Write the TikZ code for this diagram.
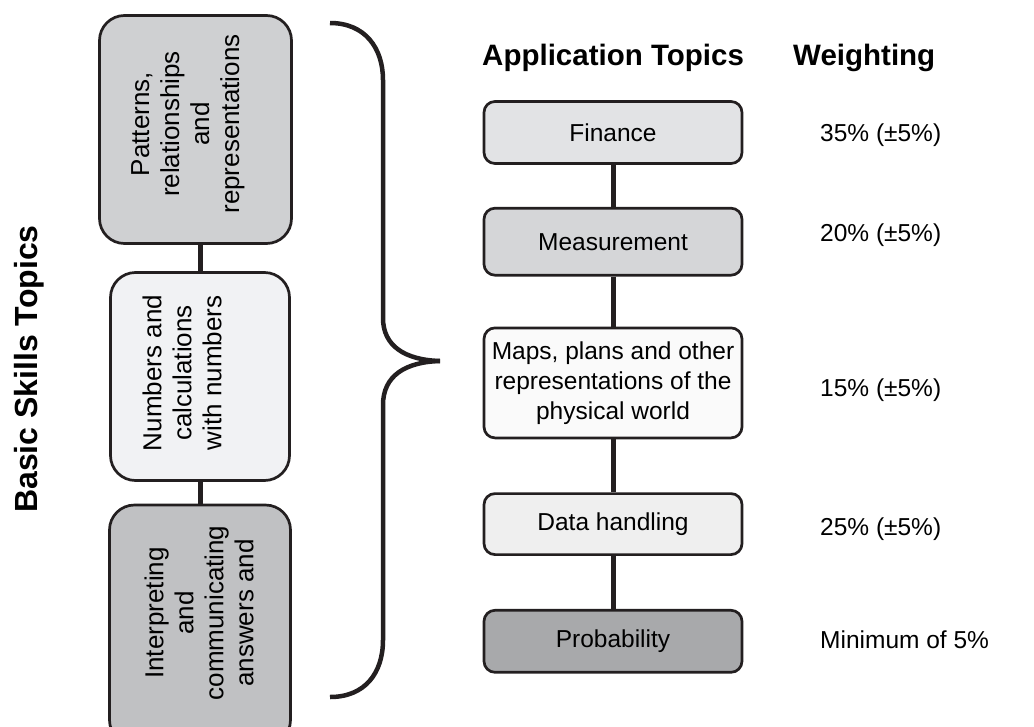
\documentclass[tikz,border=0pt]{standalone}
\usepackage{fontspec}
\setmainfont{Liberation Sans}
\usetikzlibrary{positioning}

\definecolor{linegray}{RGB}{35,31,32}
\definecolor{patternsgray}{RGB}{207,208,210}
\definecolor{numbersgray}{RGB}{241,242,244}
\definecolor{interpgray}{RGB}{192,193,195}
\definecolor{financegray}{RGB}{226,227,229}
\definecolor{measuregray}{RGB}{213,214,216}
\definecolor{mapsgray}{RGB}{250,250,250}
\definecolor{datagray}{RGB}{239,239,239}
\definecolor{probgray}{RGB}{168,169,171}

\tikzset{
    box/.style={draw=linegray, line width=2.7pt, rounded corners=11pt, minimum width=258pt, align=center, inner sep=0pt, font=\fontsize{24.5}{30}\selectfont},
    skill/.style={draw=linegray, line width=2.7pt, rounded corners=25pt, inner sep=0pt},
    skilltext/.style={rotate=90, align=center, inner sep=0pt, font=\fontsize{26}{30}\selectfont},
    title/.style={inner sep=0pt, font=\fontsize{29.5}{34}\selectfont\bfseries},
    weight/.style={anchor=base west, inner sep=0pt, font=\fontsize{24.5}{30}\selectfont},
    link/.style={draw=linegray, line width=5pt},
    brace/.style={draw=linegray, line width=4.5pt}
}

\begin{document}
\begin{tikzpicture}[x=1pt,y=-1pt]
        \useasboundingbox (0,0) rectangle (1034,726);
        \clip (0,0) rectangle (1034,726);
        % basic skills
        \node [skill,fill=patternsgray,minimum width=192pt,minimum height=228pt] (patterns) at (195.5,129.5) {};
        \node [skill,fill=numbersgray,minimum width=179pt,minimum height=208pt] (numbers) at (200,376.5) {};
        \node [skill,fill=interpgray,minimum width=181pt,minimum height=240pt] (interp) at (200,625) {};
        \path[link]
            (patterns.south -| numbers.north) edge (numbers.north)
            (numbers.south) edge (interp.north);
        \node [skilltext] at (188,124) {Patterns,\\relationships\\and\\representations};
        \node [skilltext] at (182,373) {Numbers and\\calculations\\with numbers};
        \node [skilltext] at (199,613) {Interpreting\\and\\communicating\\answers and};
        \node [title,rotate=90,anchor=base,font=\fontsize{32}{36}\selectfont\bfseries] (basic) at (37,369) {Basic Skills Topics};
        % brace
        \draw [brace] (330,23) .. controls (365,23) and (383,48) .. (383,80) -- (383,318)
            .. controls (383,346) and (405,360) .. (440,361);
        \draw [brace] (440,361) .. controls (405,362) and (383,376) .. (383,405) -- (383,640)
            .. controls (383,673) and (365,697) .. (330,697);
        % application topics
        \node [title,anchor=base west] (apptitle) at (482,65) {Application Topics};
        \node [title,anchor=base west] (wtitle) at (793,65) {Weighting};
        \node [box,fill=financegray,minimum height=62pt] (finance) at (613,132.5) {Finance};
        \node [box,fill=measuregray,minimum height=67pt] (measure) [below=42pt of finance] {Measurement};
        \node [box,fill=mapsgray,minimum height=110pt] (maps) [below=50pt of measure] {Maps, plans and other\\representations of the\\physical world};
        \node [box,fill=datagray,minimum height=61pt] (data) [below=53pt of maps] {Data handling};
        \node [box,fill=probgray,minimum height=62pt] (prob) [below=53pt of data] {Probability};
        \path[link]
            (finance) edge (measure)
            (measure) edge (maps)
            (maps) edge (data)
            (data) edge (prob);
        % weightings
        \node [weight] (wfinance) at (820,141.7) {35\% (±5\%)};
        \node [weight] (wmeasure) at (820,241.7) {20\% (±5\%)};
        \node [weight] (wmaps) at (820,396.7) {15\% (±5\%)};
        \node [weight] (wdata) at (820,535) {25\% (±5\%)};
        \node [weight] (wprob) at (820,648.3) {Minimum of 5\%};
    \end{tikzpicture}
\end{document}
